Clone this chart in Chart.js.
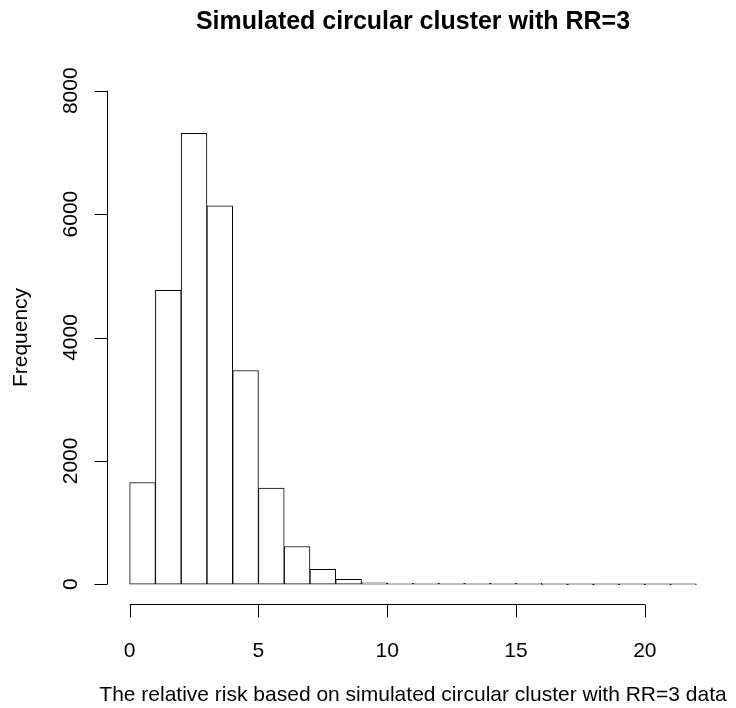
<!DOCTYPE html>
<html>
<head>
<meta charset="utf-8">
<script src="https://cdn.jsdelivr.net/npm/chart.js@4/dist/chart.umd.min.js"></script>
<style>
  html, body { margin: 0; padding: 0; background: #fff; }
  #wrap { width: 736px; height: 708px; }
</style>
</head>
<body>
<div id="wrap"><canvas id="hist" width="736" height="708"></canvas></div>
<script>
// histogram bins (left edges, width 1) and counts
const binStarts = [0, 1, 2, 3, 4, 5, 6, 7, 8, 9, 10, 11, 12, 13, 14, 15, 16, 17, 18, 19, 20, 21];
const counts = [1650, 4765, 7310, 6135, 3465, 1560, 612, 240, 78, 25, 10, 5, 3, 2, 3, 1, 0, 0, 0, 0, 0, 0];
const xTicks = [0, 5, 10, 15, 20];
const yTicks = [0, 2000, 4000, 6000, 8000];

const mainTitle = 'Simulated circular cluster with RR=3';
const xLabel = 'The relative risk based on simulated circular cluster with RR=3 data';
const yLabel = 'Frequency';

const FONT = '"Liberation Sans", Arial, Helvetica, sans-serif';

// R-style detached axes + titles, positioned through the chart scales
const rAxes = {
  id: 'rAxes',
  afterDraw(chart) {
    const ctx = chart.ctx;
    const x = chart.scales.x, y = chart.scales.y;
    const area = chart.chartArea;
    const tick = 13;
    ctx.save();
    ctx.strokeStyle = '#000';
    ctx.fillStyle = '#000';
    ctx.lineWidth = 1;

    // x axis
    const ay = Math.round(area.bottom) + 0.5;
    ctx.beginPath();
    ctx.moveTo(x.getPixelForValue(xTicks[0]), ay);
    ctx.lineTo(x.getPixelForValue(xTicks[xTicks.length - 1]), ay);
    xTicks.forEach(t => {
      const px = Math.round(x.getPixelForValue(t)) + 0.5;
      ctx.moveTo(px, ay);
      ctx.lineTo(px, ay + tick);
    });
    ctx.stroke();
    ctx.font = '21px ' + FONT;
    ctx.textAlign = 'center';
    ctx.textBaseline = 'middle';
    xTicks.forEach(t => ctx.fillText(String(t), x.getPixelForValue(t), ay + 47));

    // y axis
    const ax = Math.round(area.left) + 0.5;
    ctx.beginPath();
    ctx.moveTo(ax, y.getPixelForValue(yTicks[0]));
    ctx.lineTo(ax, y.getPixelForValue(yTicks[yTicks.length - 1]));
    yTicks.forEach(t => {
      const py = Math.round(y.getPixelForValue(t)) + 0.5;
      ctx.moveTo(ax, py);
      ctx.lineTo(ax - tick, py);
    });
    ctx.stroke();
    yTicks.forEach(t => {
      ctx.save();
      ctx.translate(ax - 36, y.getPixelForValue(t));
      ctx.rotate(-Math.PI / 2);
      ctx.fillText(String(t), 0, 0);
      ctx.restore();
    });

    // titles
    const cx = (area.left + area.right) / 2;
    ctx.fillText(xLabel, cx, 695);
    ctx.save();
    ctx.translate(21, (area.top + area.bottom) / 2);
    ctx.rotate(-Math.PI / 2);
    ctx.fillText(yLabel, 0, 0);
    ctx.restore();
    ctx.font = 'bold 25px ' + FONT;
    ctx.fillText(mainTitle, cx, 22);
    ctx.restore();
  }
};

new Chart(document.getElementById('hist'), {
  type: 'bar',
  data: {
    datasets: [{
      data: binStarts.map((b, i) => ({ x: b + 0.5, y: counts[i] })),
      backgroundColor: '#ffffff',
      borderColor: '#000000',
      borderWidth: 1,
      borderSkipped: false,
      barPercentage: 1,
      categoryPercentage: 1,
      minBarLength: 1
    }]
  },
  options: {
    responsive: false,
    animation: false,
    layout: { padding: { left: 107, right: 17, top: 71, bottom: 104 } },
    plugins: { legend: { display: false }, tooltip: { enabled: false }, title: { display: false } },
    scales: {
      x: { type: 'linear', display: false, min: -0.88, max: 22.88, offset: false },
      y: { display: false, min: -320, max: 8320 }
    }
  },
  plugins: [rAxes]
});
</script>
</body>
</html>
